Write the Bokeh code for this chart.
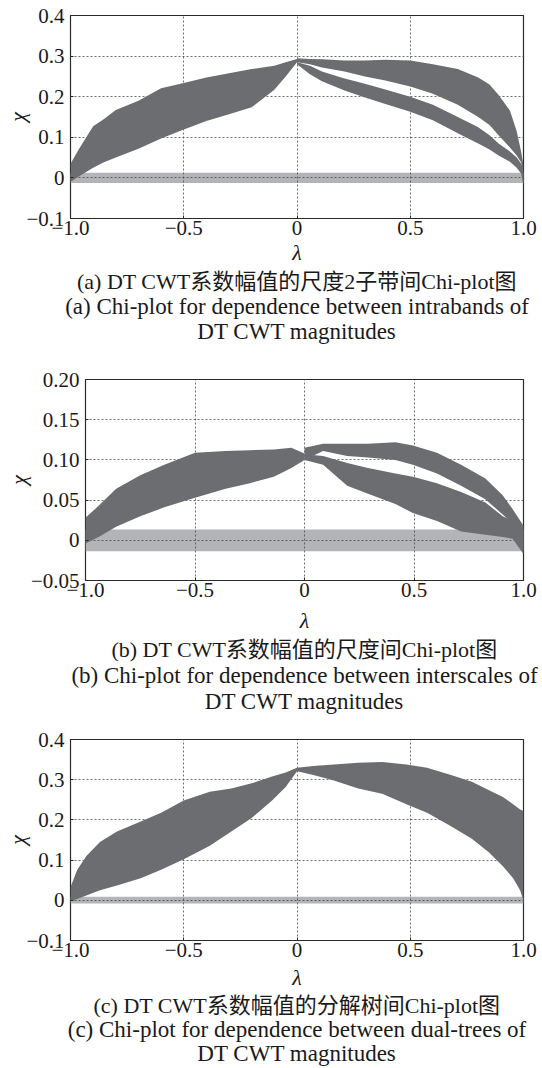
from bokeh.plotting import figure
from bokeh.models import Range1d, FixedTicker, Title
from bokeh.embed import file_html
from bokeh.resources import INLINE

# ---------------- data ----------------
x_ticks = [-1.0, -0.5, 0.0, 0.5, 1.0]
x_tick_labels = ["−1.0", "−0.5", "0", "0.5", "1.0"]
x_grid = [-0.5, 0.0, 0.5]

# panel (a)
a_y_ticks = [-0.1, 0.0, 0.1, 0.2, 0.3, 0.4]
a_y_tick_labels = ["−0.1", "0", "0.1", "0.2", "0.3", "0.4"]
a_band_x = [-1.0, 1.0]
a_band_lo = [-0.0125, -0.0125]
a_band_hi = [0.0125, 0.0125]
a_left_x = [-1.0, -0.962, -0.90, -0.855, -0.80, -0.70, -0.60, -0.50, -0.40, -0.30, -0.20, -0.10, -0.05, 0.0]
a_left_lo = [-0.01, 0.004, 0.025, 0.038, 0.05, 0.072, 0.097, 0.119, 0.14, 0.157, 0.174, 0.217, 0.25, 0.285]
a_left_hi = [0.035, 0.072, 0.127, 0.144, 0.167, 0.19, 0.221, 0.234, 0.247, 0.258, 0.268, 0.276, 0.285, 0.293]
a_right_x = [0.0, 0.057, 0.11, 0.21, 0.30, 0.39, 0.50, 0.60, 0.71, 0.80, 0.85, 0.89, 0.94, 0.97, 0.99, 1.0]
a_outer_hi = [0.295, 0.293, 0.292, 0.289, 0.289, 0.291, 0.289, 0.28, 0.268, 0.247, 0.23, 0.204, 0.166, 0.115, 0.063, 0.03]
a_outer_lo = [0.285, 0.28, 0.272, 0.262, 0.25, 0.24, 0.225, 0.207, 0.18, 0.15, 0.13, 0.105, 0.075, 0.055, 0.038, -0.005]
a_inner_hi = [0.285, 0.276, 0.262, 0.245, 0.232, 0.218, 0.2, 0.18, 0.15, 0.125, 0.105, 0.085, 0.065, 0.05, 0.035, 0.02]
a_inner_lo = [0.28, 0.255, 0.238, 0.215, 0.198, 0.182, 0.163, 0.142, 0.11, 0.085, 0.07, 0.055, 0.04, 0.025, 0.01, -0.02]

# panel (b)
b_y_ticks = [-0.05, 0.0, 0.05, 0.10, 0.15, 0.20]
b_y_tick_labels = ["−0.05", "0", "0.05", "0.10", "0.15", "0.20"]
b_band_x = [-1.0, 1.0]
b_band_lo = [-0.0135, -0.0135]
b_band_hi = [0.0135, 0.0135]
b_left_x = [-1.0, -0.94, -0.86, -0.75, -0.64, -0.50, -0.36, -0.25, -0.14, -0.06, 0.0]
b_left_lo = [-0.004, 0.004, 0.017, 0.03, 0.041, 0.053, 0.064, 0.071, 0.079, 0.09, 0.10]
b_left_hi = [0.028, 0.043, 0.064, 0.081, 0.094, 0.109, 0.111, 0.112, 0.113, 0.115, 0.108]
b_right_x = [0.0, 0.085, 0.195, 0.29, 0.415, 0.495, 0.605, 0.715, 0.826, 0.905, 0.95, 1.0]
b_outer_hi = [0.115, 0.12, 0.12, 0.12, 0.122, 0.118, 0.109, 0.094, 0.077, 0.056, 0.039, 0.018]
b_outer_lo = [0.10, 0.111, 0.105, 0.103, 0.10, 0.094, 0.083, 0.068, 0.051, 0.032, 0.021, -0.008]
b_inner_hi = [0.107, 0.105, 0.096, 0.09, 0.083, 0.079, 0.071, 0.06, 0.047, 0.03, 0.024, 0.018]
b_inner_lo = [0.10, 0.094, 0.068, 0.058, 0.045, 0.034, 0.024, 0.011, 0.007, 0.004, 0.002, -0.017]

# panel (c)
c_y_ticks = [-0.1, 0.0, 0.1, 0.2, 0.3, 0.4]
c_y_tick_labels = ["−0.1", "0", "0.1", "0.2", "0.3", "0.4"]
c_band_x = [-1.0, 1.0]
c_band_lo = [-0.008, -0.008]
c_band_hi = [0.009, 0.009]
c_left_x = [-1.0, -0.97, -0.93, -0.87, -0.795, -0.69, -0.60, -0.50, -0.385, -0.29, -0.20, -0.11, -0.05, 0.0]
c_left_lo = [-0.001, 0.003, 0.012, 0.025, 0.037, 0.055, 0.076, 0.102, 0.136, 0.171, 0.205, 0.248, 0.282, 0.321]
c_left_hi = [0.033, 0.076, 0.11, 0.145, 0.171, 0.196, 0.218, 0.248, 0.27, 0.278, 0.291, 0.308, 0.318, 0.33]
c_right_x = [0.0, 0.072, 0.163, 0.27, 0.376, 0.483, 0.574, 0.68, 0.772, 0.848, 0.909, 0.954, 0.985, 1.0]
c_right_lo = [0.321, 0.312, 0.298, 0.278, 0.265, 0.239, 0.218, 0.184, 0.153, 0.119, 0.085, 0.055, 0.025, -0.001]
c_right_hi = [0.33, 0.334, 0.338, 0.342, 0.344, 0.338, 0.33, 0.312, 0.295, 0.274, 0.257, 0.239, 0.226, 0.222]

captions_a = ["(a) DT CWT系数幅值的尺度2子带间Chi-plot图",
              "(a) Chi-plot for dependence between intrabands of",
              "DT CWT magnitudes"]
captions_b = ["(b) DT CWT系数幅值的尺度间Chi-plot图",
              "(b) Chi-plot for dependence between interscales of",
              "DT CWT magnitudes"]
captions_c = ["(c) DT CWT系数幅值的分解树间Chi-plot图",
              "(c) Chi-plot for dependence between dual-trees of",
              "DT CWT magnitudes"]

# ---------------- styling ----------------
DARK = "#6c6d71"
LIGHT = "#b3b4b8"
TEXT = "#1a1a1a"
SERIF = "Liberation Serif, Noto Sans CJK SC"
TICK_SIZE = "21px"
CAP_SIZES = ["22px", "23px", "23px"]


def make_panel(y_range, y_ticks, y_labels, band, bands, captions,
               left, fw, right, top, fh, bottom, chi_standoff,
               lam_standoff, cap_standoff):
    p = figure(frame_width=fw, frame_height=fh,
               min_border_left=left, min_border_right=right,
               min_border_top=top, min_border_bottom=bottom,
               x_range=Range1d(-1.0, 1.0), y_range=Range1d(*y_range),
               output_backend="svg", toolbar_location=None,
               background_fill_color="white", border_fill_color="white")
    p.outline_line_color = "#2a2a2a"
    p.outline_line_width = 1.2

    bx, blo, bhi = band
    r = p.varea(x=bx, y1=blo, y2=bhi, fill_color=LIGHT)
    r.level = "image"
    for (x, lo, hi) in bands:
        p.varea(x=x, y1=lo, y2=hi, fill_color=DARK)

    p.xaxis.ticker = FixedTicker(ticks=x_ticks)
    p.xaxis.major_label_overrides = {t: s for t, s in zip(x_ticks, x_tick_labels)}
    p.yaxis.ticker = FixedTicker(ticks=y_ticks)
    p.yaxis.major_label_overrides = {t: s for t, s in zip(y_ticks, y_labels)}
    for ax in (p.xaxis, p.yaxis):
        ax.axis_line_color = None
        ax.major_tick_line_color = "#2a2a2a"
        ax.major_tick_in = 3
        ax.major_tick_out = 0
        ax.minor_tick_line_color = None
        ax.major_label_text_font = "Liberation Serif"
        ax.major_label_text_font_size = TICK_SIZE
        ax.major_label_text_color = TEXT
        ax.axis_label_text_font = "Liberation Serif"
        ax.axis_label_text_font_style = "italic"
        ax.axis_label_text_font_size = "22px"
        ax.axis_label_text_color = TEXT
    p.xaxis.axis_label = "λ"
    p.yaxis.axis_label = "χ"
    p.xaxis.major_label_standoff = 2
    p.xaxis.axis_label_standoff = lam_standoff
    p.yaxis.major_label_standoff = 6
    p.yaxis.axis_label_standoff = chi_standoff

    p.xgrid.ticker = FixedTicker(ticks=x_grid)
    p.ygrid.ticker = FixedTicker(ticks=y_ticks)
    for g in (p.xgrid, p.ygrid):
        g.grid_line_color = "#4a4a4a"
        g.grid_line_dash = "2 2"
        g.grid_line_width = 0.8

    for c, fs in zip(captions, CAP_SIZES):
        t = Title(text=c, align="center", text_font=SERIF,
                  text_font_size=fs, text_font_style="normal",
                  text_color=TEXT, standoff=cap_standoff)
        p.add_layout(t, "below")
    return p


p1 = make_panel((-0.1, 0.4), a_y_ticks, a_y_tick_labels,
                (a_band_x, a_band_lo, a_band_hi),
                [(a_left_x, a_left_lo, a_left_hi),
                 (a_right_x, a_outer_lo, a_outer_hi),
                 (a_right_x, a_inner_lo, a_inner_hi)],
                captions_a, 70, 453, 19, 15, 203, 145, -7, 2, -2)
p2 = make_panel((-0.05, 0.20), b_y_ticks, b_y_tick_labels,
                (b_band_x, b_band_lo, b_band_hi),
                [(b_left_x, b_left_lo, b_left_hi),
                 (b_right_x, b_outer_lo, b_outer_hi),
                 (b_right_x, b_inner_lo, b_inner_hi)],
                captions_b, 85, 438, 19, 16, 201, 143, -3, 8, -1)
p3 = make_panel((-0.1, 0.4), c_y_ticks, c_y_tick_labels,
                (c_band_x, c_band_lo, c_band_hi),
                [(c_left_x, c_left_lo, c_left_hi),
                 (c_right_x, c_right_lo, c_right_hi)],
                captions_c, 70, 453, 19, 16, 201, 128, -7, 5, -3)

# three independent roots stacked in the page (no frame alignment between them)
open("out.html", "w").write(file_html([p1, p2, p3], INLINE))
